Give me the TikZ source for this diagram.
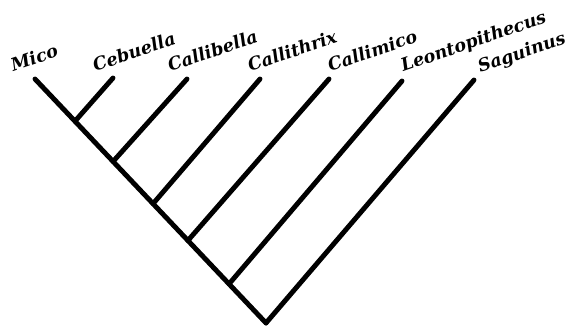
\documentclass[tikz,border=0pt]{standalone}
\usepackage{fontspec}
\setmainfont{DejaVu Serif}
\usepackage{tikz}
\usetikzlibrary{calc}

\begin{document}
\begin{tikzpicture}[x=0.02cm, y=-0.02cm,
  every node/.style={font=\fontsize{10}{12}\selectfont\bfseries\itshape},
  branch/.style={line width=2.8pt, line cap=round},
  taxon/.style={anchor=base west, rotate=19, inner sep=0pt},
]
\useasboundingbox (0,0) rectangle (565,329);

% tips and root
\coordinate (mico)   at (35,79);
\coordinate (cebu)   at (113,78);
\coordinate (cbel)   at (187,79);
\coordinate (cthx)   at (260,79);
\coordinate (cmico)  at (329,79);
\coordinate (leon)   at (402,81);
\coordinate (sagu)   at (474,80);
\coordinate (root)   at (266,323);

% forks along the main stem
\coordinate (n1) at ($(mico)!0.173!(root)$);
\coordinate (n2) at ($(mico)!0.338!(root)$);
\coordinate (n3) at ($(mico)!0.511!(root)$);
\coordinate (n4) at ($(mico)!0.662!(root)$);
\coordinate (n5) at ($(mico)!0.840!(root)$);

\draw[branch] (mico) -- (root);
\draw[branch] (cebu)  -- (n1);
\draw[branch] (cbel)  -- (n2);
\draw[branch] (cthx)  -- (n3);
\draw[branch] (cmico) -- (n4);
\draw[branch] (leon)  -- (n5);
\draw[branch] (sagu)  -- (root);

% labels
\node[taxon] (lmico)  at (13,72)  {Mico};
\node[taxon] (lcebu)  at (95,72)  {Cebuella};
\node[taxon] (lcbel)  at (170,72) {Callibella};
\node[taxon] (lcthx)  at (250,72) {Callithrix};
\node[taxon] (lcmico) at (330,72) {Callimico};
\node[taxon] (lleon)  at (403,72) {Leontopithecus};
\node[taxon] (lsagu)  at (480,73) {Saguinus};

\end{tikzpicture}
\end{document}
